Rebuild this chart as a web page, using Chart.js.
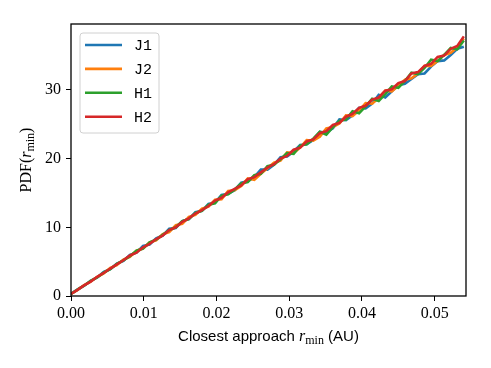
<!DOCTYPE html>
<html>
<head>
<meta charset="UTF-8"/>
<title>PDF of closest approach</title>
<script src="https://cdn.jsdelivr.net/npm/chart.js@4.4.1/dist/chart.umd.min.js"></script>
<style>
  html, body { margin: 0; padding: 0; background: #fff; }
  #wrap { width: 491px; height: 368px; position: relative; }
</style>
</head>
<body>
<div id="wrap"><canvas id="c"></canvas></div>
<script>
// r_min grid (AU)
const rMin = [0.0000,0.0009,0.0018,0.0027,0.0036,0.0045,0.0054,0.0063,0.0072,0.0081,
  0.0090,0.0099,0.0108,0.0117,0.0126,0.0135,0.0144,0.0153,0.0162,0.0171,
  0.0180,0.0189,0.0198,0.0207,0.0216,0.0225,0.0234,0.0243,0.0252,0.0261,
  0.0270,0.0279,0.0288,0.0297,0.0306,0.0315,0.0324,0.0333,0.0342,0.0351,
  0.0360,0.0369,0.0378,0.0387,0.0396,0.0405,0.0414,0.0423,0.0432,0.0441,
  0.0450,0.0459,0.0468,0.0477,0.0486,0.0495,0.0504,0.0513,0.0522,0.0531,0.0540];

const pdfJ1 = [0.3,0.95,1.5,2.2,2.7,3.5,3.9,4.7,5.1,6.0,6.3,7.3,7.5,8.4,8.8,9.8,9.9,10.9,11.2,12.2,12.4,
  13.4,13.6,14.7,14.9,15.4,16.5,16.7,17.3,18.4,18.4,19.1,20.2,20.3,21.0,22.0,22.1,22.7,23.9,23.8,24.4,
  25.7,25.6,26.3,27.4,27.3,28.0,29.3,28.9,29.8,30.7,30.9,31.6,32.3,32.4,33.4,34.2,34.3,35.1,36.0,36.3];
const pdfJ2 = [0.3,0.9,1.6,2.1,2.8,3.3,4.1,4.5,5.3,5.7,6.6,6.9,7.8,8.1,9.0,9.3,10.3,10.5,11.5,11.8,12.7,
  13.0,14.0,14.1,15.3,15.4,16.0,17.1,16.9,17.8,18.6,19.4,19.7,20.9,20.8,21.6,22.7,22.6,23.2,24.4,24.6,
  25.1,26.3,26.2,27.0,28.1,28.0,28.8,29.9,29.8,30.6,31.5,31.7,32.4,33.5,33.5,34.2,35.1,35.4,36.2,37.5];
const pdfH1 = [0.3,0.92,1.5,2.2,2.7,3.4,3.9,4.7,5.2,5.8,6.6,6.9,7.8,8.2,8.9,9.6,10.0,10.9,11.2,12.1,12.4,
  13.3,13.5,14.6,14.8,15.5,16.4,16.6,17.6,17.8,18.9,19.1,19.9,20.8,20.7,21.9,22.1,22.9,23.9,23.5,24.6,
  25.5,25.7,26.9,26.6,27.6,28.7,28.4,29.4,30.5,30.3,31.3,32.5,32.3,33.2,34.4,34.2,35.1,36.1,35.9,37.2];
const pdfH2 = [0.3,0.9,1.55,2.1,2.8,3.35,4.0,4.6,5.2,5.9,6.3,7.1,7.6,8.3,8.8,9.6,10.0,10.8,11.3,12.0,12.5,
  13.1,13.9,14.3,15.1,15.6,16.1,17.0,17.3,18.0,18.7,19.2,20.0,20.4,21.3,21.6,22.5,22.8,23.7,24.0,24.9,
  25.2,26.1,26.5,27.4,27.7,28.6,28.9,29.9,30.1,31.0,31.3,32.4,32.6,33.5,33.8,34.8,35.0,36.0,36.4,37.8];

const seriesNames = ['J1', 'J2', 'H1', 'H2'];
const seriesColors = ['#1f77b4', '#ff7f0e', '#2ca02c', '#d62728'];
const xTicks = [0, 0.01, 0.02, 0.03, 0.04, 0.05];
const yTicks = [0, 10, 20, 30];

const serif = '"Liberation Serif", "DejaVu Serif", serif';
const sans = '"Liberation Sans", "DejaVu Sans", sans-serif';

const toPts = ys => ys.map((y, i) => ({ x: rMin[i], y }));
// later series drawn on top, like matplotlib
const datasets = [pdfJ1, pdfJ2, pdfH1, pdfH2].map((ys, k) => ({
  label: seriesNames[k],
  data: toPts(ys),
  borderColor: seriesColors[k],
  backgroundColor: seriesColors[k],
  borderWidth: 2.6,
  pointRadius: 0,
  tension: 0,
  fill: false,
  order: 4 - k
}));

function drawParts(ctx, parts, cx, cy) {
  let total = 0;
  parts.forEach(p => { ctx.font = p.f; p.w = ctx.measureText(p.t).width; total += p.w; });
  let x = cx - total / 2;
  parts.forEach(p => {
    ctx.font = p.f;
    ctx.fillText(p.t, x, cy + (p.dy || 0));
    x += p.w;
  });
}

const decor = {
  id: 'decor',
  afterDraw(chart) {
    const ctx = chart.ctx, a = chart.chartArea;
    ctx.save();
    // frame
    ctx.strokeStyle = '#000';
    ctx.lineWidth = 1.3;
    ctx.strokeRect(a.left, a.top, a.right - a.left, a.bottom - a.top);
    ctx.fillStyle = '#000';
    ctx.textBaseline = 'alphabetic';
    ctx.textAlign = 'left';
    // x title
    drawParts(ctx, [
      { t: 'Closest approach ', f: '15px ' + sans },
      { t: 'r', f: 'italic 16px ' + serif },
      { t: 'min', f: '12px ' + serif, dy: 3 },
      { t: ' (AU)', f: '15px ' + sans }
    ], (a.left + a.right) / 2, 341);
    // y title
    ctx.save();
    ctx.translate(31, (a.top + a.bottom) / 2);
    ctx.rotate(-Math.PI / 2);
    drawParts(ctx, [
      { t: 'PDF(', f: '16px ' + serif },
      { t: 'r', f: 'italic 16px ' + serif },
      { t: 'min', f: '12px ' + serif, dy: 3 },
      { t: ')', f: '16px ' + serif }
    ], 0, 0);
    ctx.restore();
    // legend
    const bx = 80, by = 33, bw = 79, bh = 100, r = 3;
    ctx.beginPath();
    ctx.moveTo(bx + r, by);
    ctx.arcTo(bx + bw, by, bx + bw, by + bh, r);
    ctx.arcTo(bx + bw, by + bh, bx, by + bh, r);
    ctx.arcTo(bx, by + bh, bx, by, r);
    ctx.arcTo(bx, by, bx + bw, by, r);
    ctx.closePath();
    ctx.fillStyle = 'rgba(255,255,255,0.8)';
    ctx.fill();
    ctx.strokeStyle = '#d0d0d0';
    ctx.lineWidth = 1;
    ctx.stroke();
    ctx.textBaseline = 'middle';
    ctx.font = '15px "Liberation Mono", "DejaVu Sans Mono", monospace';
    chart.data.datasets.forEach((ds, i) => {
      const yy = 45 + i * 23.9;
      ctx.strokeStyle = ds.borderColor;
      ctx.lineWidth = 2.6;
      ctx.beginPath();
      ctx.moveTo(85, yy);
      ctx.lineTo(122, yy);
      ctx.stroke();
      ctx.fillStyle = '#000';
      ctx.fillText(ds.label, 134, yy + 1);
    });
    ctx.restore();
  }
};

new Chart(document.getElementById('c'), {
  type: 'line',
  data: { datasets },
  options: {
    responsive: true,
    maintainAspectRatio: false,
    animation: false,
    layout: { padding: { top: 24, right: 25, left: 0, bottom: 0 } },
    plugins: { legend: { display: false }, tooltip: { enabled: false } },
    scales: {
      x: {
        type: 'linear',
        min: 0,
        max: 0.0543,
        afterBuildTicks: s => { s.ticks = xTicks.map(v => ({ value: v })); },
        afterFit: s => { s.height = 72; },
        grid: { display: true, drawOnChartArea: false, drawTicks: true, tickLength: 5, color: '#000', lineWidth: 1 },
        border: { display: false },
        ticks: {
          color: '#000',
          padding: 3,
          maxRotation: 0,
          font: { family: serif, size: 16 },
          callback: v => v.toFixed(2)
        }
      },
      y: {
        type: 'linear',
        min: 0,
        max: 39.6,
        afterBuildTicks: s => { s.ticks = yTicks.map(v => ({ value: v })); },
        afterFit: s => { s.width = 71; },
        grid: { display: true, drawOnChartArea: false, drawTicks: true, tickLength: 5, color: '#000', lineWidth: 1 },
        border: { display: false },
        ticks: {
          color: '#000',
          padding: 5,
          font: { family: serif, size: 16 },
          callback: v => String(v)
        }
      }
    }
  },
  plugins: [decor]
});
</script>
</body>
</html>
